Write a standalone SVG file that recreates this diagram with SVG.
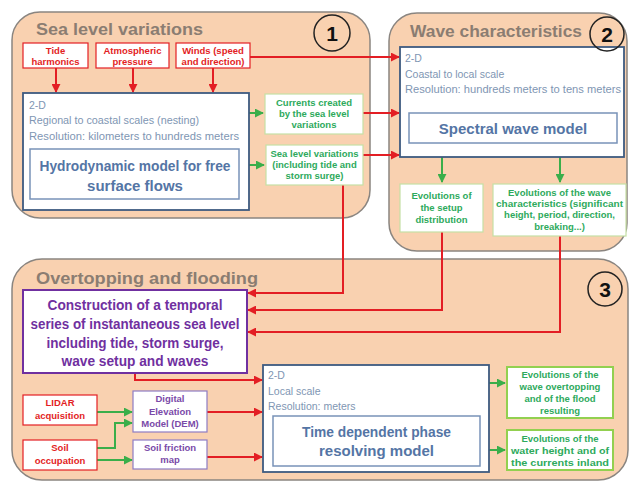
<svg xmlns="http://www.w3.org/2000/svg" width="630" height="483" viewBox="0 0 630 483">
<defs>
<marker id="ar" viewBox="0 0 10 10" refX="9" refY="5" markerWidth="4.5" markerHeight="4.5" orient="auto" markerUnits="strokeWidth"><path d="M0,0 L10,5 L0,10 z" fill="#e31e24"/></marker>
<marker id="ag" viewBox="0 0 10 10" refX="9" refY="5" markerWidth="4.5" markerHeight="4.5" orient="auto" markerUnits="strokeWidth"><path d="M0,0 L10,5 L0,10 z" fill="#3aae4a"/></marker>
<style>
.panel{fill:#f9d1b0;stroke:#8a8580;stroke-width:1.5}
.title{font-family:"Liberation Sans",Arial,sans-serif;font-weight:bold;font-size:17px;fill:#8b7d72}
.num{font-family:"Liberation Sans",Arial,sans-serif;font-weight:bold;font-size:21px;fill:#111;text-anchor:middle}
.circ{fill:none;stroke:#222;stroke-width:1.5}
.rbox{fill:#fff;stroke:#e31e24;stroke-width:1.2}
.rt{font-family:"Liberation Sans",Arial,sans-serif;font-weight:bold;font-size:9.5px;fill:#e31e24;text-anchor:middle}
.gbox{fill:#fff;stroke:#c5e0a5;stroke-width:1.2}
.gbox2{fill:#fff;stroke:#92d050;stroke-width:2}
.gt{font-family:"Liberation Sans",Arial,sans-serif;font-weight:bold;font-size:9.5px;fill:#2eaa5c;text-anchor:middle}
.mbox{fill:#fff;stroke:#3d5a80;stroke-width:1.8}
.ibox{fill:#fff;stroke:#7892b8;stroke-width:1.5}
.lt{font-family:"Liberation Sans",Arial,sans-serif;font-size:10.5px;fill:#8096b3}
.bt{font-family:"Liberation Sans",Arial,sans-serif;font-weight:bold;font-size:15px;fill:#5475a5;text-anchor:middle}
.pbox{fill:#fff;stroke:#7030a0;stroke-width:2}
.pt{font-family:"Liberation Sans",Arial,sans-serif;font-weight:bold;font-size:14px;fill:#7030a0;text-anchor:middle}
.dbox{fill:#fff;stroke:#8e7cc3;stroke-width:1.2}
.dt{font-family:"Liberation Sans",Arial,sans-serif;font-weight:bold;font-size:9.5px;fill:#7a4aa8;text-anchor:middle}
.r{fill:none;stroke:#e31e24;stroke-width:2;marker-end:url(#ar)}
.g{fill:none;stroke:#3aae4a;stroke-width:2;marker-end:url(#ag)}
</style>
</defs>
<rect width="630" height="483" fill="#fff"/>

<g id="panel1">
<rect class="panel" x="12" y="12" width="358" height="206" rx="28"/>
<text class="title" x="36" y="35" textLength="167" lengthAdjust="spacingAndGlyphs">Sea level variations</text>
<circle class="circ" cx="332" cy="33" r="18"/>
<text class="num" x="332" y="40.5">1</text>
</g>
<g id="panel2">
<rect class="panel" x="389" y="13" width="238" height="238" rx="28"/>
<text class="title" x="410" y="37" textLength="172" lengthAdjust="spacingAndGlyphs">Wave characteristics</text>
</g>
<g id="panel3">
<rect class="panel" x="12" y="259" width="616" height="221" rx="30"/>
<text class="title" x="36" y="284" textLength="222" lengthAdjust="spacingAndGlyphs">Overtopping and flooding</text>
<circle class="circ" cx="605" cy="289" r="17"/>
<text class="num" x="605" y="296.5">3</text>
</g>

<g id="connectors">
<path class="r" d="M56,68 V92"/>
<path class="r" d="M133,68 V92"/>
<path class="r" d="M213,68 V92"/>
<path class="r" d="M250,57 H399"/>
<path class="g" d="M249,113 H263"/>
<path class="g" d="M249,165 H264"/>
<path class="r" d="M363,113 H399"/>
<path class="r" d="M363,155 H399"/>
<path class="g" d="M442,157 V182"/>
<path class="g" d="M560,157 V182"/>
<path class="r" d="M343,185 V293 H248"/>
<path class="r" d="M442,232 V310 H248"/>
<path class="r" d="M560,236 V332 H248"/>
<path class="r" d="M135,373 V380 H262"/>
<path class="g" d="M97,412 H132"/>
<path class="g" d="M97,448 H115 V423 H132"/>
<path class="g" d="M97,460 H132"/>
<path class="r" d="M207,412 H262"/>
<path class="r" d="M207,457 H262"/>
<path class="g" d="M489,383 H505"/>
<path class="g" d="M489,450 H505"/>
</g>

<g id="tide">
<rect class="rbox" x="23" y="43" width="65" height="25"/>
<text class="rt" x="55.5" y="54">Tide</text>
<text class="rt" x="55.5" y="65">harmonics</text>
</g>
<g id="atmo">
<rect class="rbox" x="96" y="43" width="73" height="25"/>
<text class="rt" x="132.5" y="54">Atmospheric</text>
<text class="rt" x="132.5" y="65">pressure</text>
</g>
<g id="winds">
<rect class="rbox" x="176" y="43" width="74" height="25"/>
<text class="rt" x="213" y="54">Winds (speed</text>
<text class="rt" x="213" y="65">and direction)</text>
</g>

<g id="hydro">
<rect class="mbox" x="23" y="93" width="226" height="117"/>
<text class="lt" x="29" y="109">2-D</text>
<text class="lt" x="29" y="124" textLength="170" lengthAdjust="spacingAndGlyphs">Regional to coastal scales (nesting)</text>
<text class="lt" x="29" y="140" textLength="210" lengthAdjust="spacingAndGlyphs">Resolution: kilometers to hundreds meters</text>
<rect class="ibox" x="30" y="149" width="209" height="50"/>
<text class="bt" x="135" y="171" textLength="191" lengthAdjust="spacingAndGlyphs">Hydrodynamic model for free</text>
<text class="bt" x="135" y="191">surface flows</text>
</g>

<g id="currents">
<rect class="gbox" x="265" y="94" width="98" height="40"/>
<text class="gt" x="314" y="106">Currents created</text>
<text class="gt" x="314" y="117">by the sea level</text>
<text class="gt" x="314" y="128">variations</text>
</g>
<g id="sealevel">
<rect class="gbox" x="266" y="145" width="97" height="40"/>
<text class="gt" x="314.5" y="157" textLength="88" lengthAdjust="spacingAndGlyphs">Sea level variations</text>
<text class="gt" x="314.5" y="168">(including tide and</text>
<text class="gt" x="314.5" y="179">storm surge)</text>
</g>

<g id="wave">
<rect class="mbox" x="400" y="47" width="224" height="110"/>
<text class="lt" x="405" y="62">2-D</text>
<text class="lt" x="405" y="78">Coastal to local scale</text>
<text class="lt" x="405" y="93" textLength="216" lengthAdjust="spacingAndGlyphs">Resolution: hundreds meters to tens meters</text>
<rect class="ibox" x="409" y="113" width="208" height="30"/>
<text class="bt" x="513" y="134">Spectral wave model</text>
</g>
<g id="num2">
<circle class="circ" cx="607" cy="34" r="17"/>
<text class="num" x="607" y="41.5">2</text>
</g>

<g id="setup">
<rect class="gbox" x="400" y="184" width="83" height="48"/>
<text class="gt" x="441.5" y="199">Evolutions of</text>
<text class="gt" x="441.5" y="211">the setup</text>
<text class="gt" x="441.5" y="223">distribution</text>
</g>
<g id="wavechar">
<rect class="gbox" x="493" y="184" width="133" height="52"/>
<text class="gt" x="559.5" y="196">Evolutions of the wave</text>
<text class="gt" x="559.5" y="207" textLength="127" lengthAdjust="spacingAndGlyphs">characteristics (significant</text>
<text class="gt" x="559.5" y="218">height, period, direction,</text>
<text class="gt" x="559.5" y="230">breaking...)</text>
</g>

<g id="construction">
<rect class="pbox" x="23" y="290" width="224" height="83"/>
<text class="pt" x="135" y="310" textLength="175" lengthAdjust="spacingAndGlyphs">Construction of a temporal</text>
<text class="pt" x="135" y="329" textLength="209" lengthAdjust="spacingAndGlyphs">series of instantaneous sea level</text>
<text class="pt" x="135" y="348" textLength="177" lengthAdjust="spacingAndGlyphs">including tide, storm surge,</text>
<text class="pt" x="135" y="366" textLength="147" lengthAdjust="spacingAndGlyphs">wave setup and waves</text>
</g>

<g id="lidar">
<rect class="rbox" x="23" y="395" width="74" height="30"/>
<text class="rt" x="60" y="406">LIDAR</text>
<text class="rt" x="60" y="419">acquisition</text>
</g>
<g id="soil">
<rect class="rbox" x="23" y="440" width="74" height="30"/>
<text class="rt" x="60" y="451">Soil</text>
<text class="rt" x="60" y="464">occupation</text>
</g>
<g id="dem">
<rect class="dbox" x="133" y="391" width="74" height="41"/>
<text class="dt" x="170" y="402">Digital</text>
<text class="dt" x="170" y="415">Elevation</text>
<text class="dt" x="170" y="427">Model (DEM)</text>
</g>
<g id="friction">
<rect class="dbox" x="133" y="440" width="74" height="29"/>
<text class="dt" x="170" y="451">Soil friction</text>
<text class="dt" x="170" y="463">map</text>
</g>

<g id="timemodel">
<rect class="mbox" x="263" y="365" width="226" height="107"/>
<text class="lt" x="268" y="379">2-D</text>
<text class="lt" x="268" y="395">Local scale</text>
<text class="lt" x="268" y="410">Resolution: meters</text>
<rect class="ibox" x="273" y="416" width="207" height="50"/>
<text class="bt" x="376.5" y="437" textLength="149" lengthAdjust="spacingAndGlyphs">Time dependent phase</text>
<text class="bt" x="376.5" y="456">resolving model</text>
</g>

<g id="overtopping">
<rect class="gbox2" x="507" y="367" width="106" height="51"/>
<text class="gt" x="560" y="378">Evolutions of the</text>
<text class="gt" x="560" y="390">wave overtopping</text>
<text class="gt" x="560" y="402">and of the flood</text>
<text class="gt" x="560" y="414">resulting</text>
</g>
<g id="waterheight">
<rect class="gbox2" x="507" y="430" width="106" height="40"/>
<text class="gt" x="560" y="442">Evolutions of the</text>
<text class="gt" x="560" y="454" textLength="98" lengthAdjust="spacingAndGlyphs">water height and of</text>
<text class="gt" x="560" y="466" textLength="98" lengthAdjust="spacingAndGlyphs">the currents inland</text>
</g>
</svg>
